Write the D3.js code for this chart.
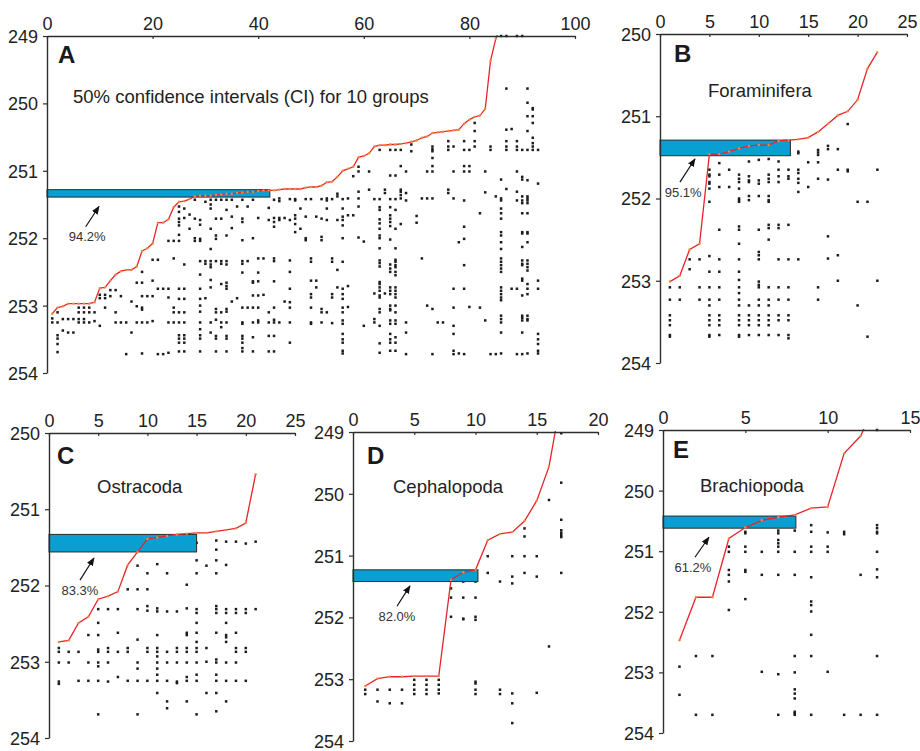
<!DOCTYPE html>
<html>
<head>
<meta charset="utf-8">
<script src="https://cdn.jsdelivr.net/npm/d3@7"></script>
<style>
  body { margin: 0; background: #fff; }
  svg { display: block; font-family: "Liberation Sans", Arial, Helvetica, sans-serif; }
</style>
</head>
<body>
<script>
// ---- data (ages in Ma, species ranked by last occurrence) ----
const xTicksA = [0, 20, 40, 60, 80, 100];
const xTicksB = [0, 5, 10, 15, 20, 25];
const xTicksC = [0, 5, 10, 15, 20, 25];
const xTicksD = [0, 5, 10, 15, 20];
const xTicksE = [0, 5, 10, 15];
const yTicks250 = [250, 251, 252, 253, 254];
const yTicks249 = [249, 250, 251, 252, 253, 254];

const titles = ["50% confidence intervals (CI) for 10 groups", "Foraminifera", "Ostracoda", "Cephalopoda", "Brachiopoda"];
const percents = ["94.2%", "95.1%", "83.3%", "82.0%", "61.2%"];

// CI bands [young, old] and length along x
const ciA = [251.28, 251.39], ciLenA = 42.2;
const ciB = [251.29, 251.48], ciLenB = 13.2;
const ciC = [251.33, 251.56], ciLenC = 15;
const ciD = [251.23, 251.42], ciLenD = 10.2;
const ciE = [250.42, 250.62], ciLenE = 8.07;

// last occurrences (red line), species 1..n
const topsA = [253.12, 253.03, 253.01, 252.97, 252.97, 252.97, 252.97, 252.97, 252.95, 252.74,
  252.73, 252.63, 252.54, 252.49, 252.47, 252.47, 252.42, 252.19, 252.15, 252.08,
  251.77, 251.77, 251.72, 251.54, 251.46, 251.45, 251.42, 251.38, 251.37, 251.37,
  251.37, 251.36, 251.35, 251.34, 251.34, 251.33, 251.32, 251.31, 251.31, 251.30,
  251.29, 251.29, 251.29, 251.28, 251.27, 251.27, 251.27, 251.27, 251.25, 251.24,
  251.24, 251.22, 251.17, 251.16, 251.09, 251.00, 250.97, 250.94, 250.80, 250.78,
  250.74, 250.64, 250.62, 250.62, 250.61, 250.61, 250.60, 250.59, 250.57, 250.55,
  250.51, 250.49, 250.44, 250.43, 250.42, 250.41, 250.40, 250.39, 250.30, 250.24,
  250.20, 250.18, 250.08, 249.37, 249.04, 248.85];
const topsB = [253.01, 252.94, 252.62, 252.55, 251.46, 251.46, 251.43, 251.39, 251.36, 251.35, 251.35,
  251.30, 251.29, 251.28, 251.26, 251.19, 251.09, 250.99, 250.94, 250.80, 250.42, 250.22];
const topsC = [252.74, 252.72, 252.49, 252.41, 252.18, 252.14, 252.08, 251.73, 251.56, 251.39, 251.37,
  251.35, 251.33, 251.32, 251.31, 251.31, 251.29, 251.27, 251.25, 251.18, 250.54];
const topsD = [253.11, 252.99, 252.96, 252.96, 252.95, 252.95, 252.95, 251.39, 251.27, 251.23, 250.75,
  250.65, 250.62, 250.44, 250.11, 249.56, 248.45];
const topsE = [252.47, 251.76, 251.76, 250.79, 250.61, 250.49, 250.44, 250.40, 250.29, 250.27, 249.385,
  249.10, 248.5];

// occurrences per species (column i = species i+1)
const occA = [
  [253.19, 253.25],
  [253.10, 253.25, 253.44, 253.49, 253.57, 253.69],
  [253.20, 253.37],
  [253.20, 253.40],
  [253.20, 253.40],
  [253.03, 253.10, 253.20, 253.25],
  [253.03, 253.10, 253.20, 253.25],
  [253.03, 253.10, 253.25],
  [253.10, 253.23],
  [252.84, 252.89, 253.30],
  [252.84, 252.89, 253.03],
  [252.77, 252.86],
  [252.77, 253.10, 253.25],
  [252.86, 253.25],
  [253.25, 253.72],
  [252.94, 253.40],
  [252.66, 253.01, 253.25],
  [252.50, 252.66, 252.86, 253.03, 253.06, 253.25, 253.71],
  [252.86, 253.25],
  [252.32, 252.63, 252.86, 253.23],
  [252.32, 252.75, 253.72],
  [252.75, 253.72],
  [252.04, 252.75, 252.88, 253.25, 253.70],
  [252.04, 252.30, 253.03, 253.10, 253.25],
  [251.53, 251.61, 251.71, 251.76, 251.81, 251.95, 252.04, 252.75, 252.90, 253.10, 253.25, 253.44, 253.49, 253.55, 253.68],
  [251.56, 251.70, 252.39, 252.75, 252.90, 253.10, 253.25, 253.44, 253.49, 253.55, 253.68],
  [251.65, 251.86],
  [251.43, 251.71, 252.00, 252.04],
  [251.73, 251.80, 252.01, 252.04, 252.34, 252.54, 252.75, 252.90, 253.00, 253.09, 253.25, 253.35, 253.44, 253.49, 253.68],
  [251.46, 252.34, 252.38, 252.89],
  [251.43, 251.50, 251.56, 251.86, 252.16, 252.34, 252.39, 252.43, 252.62, 252.73, 253.25, 253.40],
  [251.43, 251.71, 251.96, 252.01, 252.34, 253.05, 253.10, 253.21, 253.45, 253.49, 253.68],
  [251.43, 251.71, 252.34, 252.38, 252.68, 253.10, 253.25, 253.32],
  [251.43, 251.58, 251.96, 252.34, 252.39, 252.66, 252.71, 252.75, 253.05, 253.09, 253.25, 253.45, 253.49, 253.68],
  [251.43, 251.68, 251.85, 252.94],
  [251.53, 252.89],
  [251.43, 251.71, 251.76, 252.03, 252.34, 252.38, 252.51, 253.03, 253.25, 253.27, 253.45, 253.49, 253.55, 253.63, 253.68],
  [251.53, 252.34, 253.03],
  [251.43, 252.00, 252.64, 252.66, 252.85, 253.03, 253.25, 253.47, 253.68],
  [251.70, 252.30, 252.51, 252.64, 252.85, 253.03, 253.22, 253.25],
  [252.30, 252.84],
  [251.55, 251.73, 253.10, 253.25, 253.45, 253.68],
  [251.43, 251.70, 251.76, 251.83, 252.30, 252.34, 252.64, 253.03, 253.21, 253.25, 253.45, 253.68],
  [251.41, 251.45, 251.70, 251.73, 253.25],
  [251.70, 252.94],
  [251.42, 251.73, 252.33, 252.50, 252.75, 252.95, 253.03, 253.25, 253.55],
  [251.42, 251.44, 251.66, 251.71, 251.79, 251.91],
  [251.56, 251.86],
  [251.42, 251.68, 252.00, 252.03],
  [251.42, 252.30, 252.35, 252.63, 252.83, 252.88, 253.03, 253.25, 253.27],
  [251.68, 252.63, 252.73],
  [251.42, 251.71, 251.98, 252.03, 253.05, 253.10, 253.25],
  [251.41, 251.44, 251.56, 251.73, 253.10],
  [251.42, 252.30, 252.35, 252.83, 252.88, 253.26],
  [251.34, 251.38, 251.73, 252.47, 252.73],
  [251.42, 251.56, 251.68, 251.73, 251.81, 252.00, 252.35, 252.75, 252.83, 252.90, 253.03, 253.10, 253.22, 253.27, 253.42, 253.50, 253.55, 253.67, 253.71],
  [251.41, 251.66, 252.71, 253.02],
  [251.08, 251.66],
  [250.94, 251.01, 251.31, 251.41, 251.53, 251.99],
  [252.05, 253.30],
  [251.01, 251.28],
  [251.42, 252.82, 253.20, 253.25],
  [250.69, 251.42, 251.54, 251.58, 251.72, 251.78, 251.86, 251.96, 252.00, 252.15, 252.33, 252.37, 252.42, 252.65, 252.68, 252.73, 252.78, 252.85, 252.88, 253.05, 253.10, 253.30, 253.56, 253.70],
  [251.28, 251.33, 252.82],
  [250.69, 251.07, 251.42, 251.54, 251.66, 251.71, 251.76, 251.82, 252.02, 252.39, 252.45, 252.50, 252.73, 252.78, 252.83, 253.00, 253.05, 253.07, 253.22, 253.27, 253.42, 253.50, 253.55, 253.67],
  [250.69, 251.07, 251.42, 251.58, 251.86, 252.15, 252.32, 252.35, 252.40, 252.43, 252.50, 252.55, 252.73, 252.78, 252.83, 252.88, 253.00, 253.10, 253.22, 253.27, 253.47, 253.55, 253.67],
  [250.69, 250.93, 251.28, 251.31, 251.36, 251.41, 251.79],
  [251.01, 251.33, 251.44, 253.25, 253.40, 253.72],
  [250.61, 250.71],
  [251.67, 251.77],
  [251.41, 252.30],
  [251.01, 251.41, 253.00],
  [250.64, 250.68, 250.71, 250.81, 250.93, 251.01, 251.41, 253.05, 253.72],
  [253.25],
  [253.25],
  [250.56, 250.64, 250.69, 251.28, 251.33],
  [250.64, 251.01, 251.41, 252.75, 253.03, 253.30, 253.42, 253.67, 253.72],
  [252.06, 253.71],
  [250.56, 250.69, 250.93, 251.01, 251.44, 251.83, 252.01, 252.40, 252.75, 253.72],
  [250.69, 250.93, 251.01, 253.02],
  [250.29, 250.41, 250.56, 250.64],
  [251.63, 253.03],
  [251.01, 251.32, 253.22],
  [250.64, 250.69, 253.72],
  [251.38, 253.72],
  [249.00, 251.13, 251.41, 251.44, 251.56, 251.63, 251.71, 251.91, 251.96, 252.06, 252.16, 252.30, 252.35, 252.40, 252.45, 252.50, 252.73, 252.78, 252.83, 252.88, 252.92, 253.15, 253.20, 253.25, 253.40, 253.71],
  [249.00, 249.78, 250.39, 250.56, 250.64, 250.69, 251.27],
  [250.38, 252.75],
  [249.00, 250.56, 250.64, 250.69, 251.01, 251.31, 251.44, 252.75, 253.72],
  [249.00, 250.69, 251.09, 251.13, 251.38, 251.44, 251.48, 251.63, 251.91, 251.93, 252.13, 252.33, 252.38, 252.40, 252.60, 252.63, 252.85, 253.15, 253.18, 253.22, 253.40, 253.72],
  [249.78, 249.99, 250.19, 250.41, 250.69, 251.14, 251.38, 251.41, 251.44, 251.48, 251.63, 251.91, 251.93, 252.06, 252.33, 252.38, 252.43, 252.48, 252.68, 252.75, 252.83, 253.15, 253.20, 253.22, 253.71],
  [250.07, 250.09, 250.19, 250.29, 250.51, 250.59, 250.64, 250.69],
  [250.69, 251.19, 252.63, 252.75, 253.42, 253.50, 253.57, 253.67, 253.71]
];

const occB = [
  [253.08, 253.23, 253.42, 253.48, 253.54, 253.66, 253.68],
  [253.08, 253.23],
  [252.74, 252.86],
  [252.74, 253.08, 253.23],
  [251.65, 251.71, 251.73, 251.80, 251.82, 251.88, 252.04, 252.70, 252.89, 253.08, 253.23, 253.30, 253.42, 253.48, 253.54, 253.66, 253.68],
  [251.57, 251.71, 251.86, 252.38, 252.74, 252.89, 253.08, 253.23, 253.42, 253.48, 253.54, 253.66],
  [251.65, 251.86],
  [251.71, 251.76, 251.80, 251.88, 252.00, 252.02, 252.04, 252.34, 252.38, 252.55, 252.74, 252.89, 252.99, 253.08, 253.15, 253.23, 253.30, 253.42, 253.48, 253.54, 253.66, 253.68],
  [251.43, 251.55, 251.73, 251.78, 251.80, 251.97, 252.02, 253.30, 253.42, 253.48, 253.54, 253.66],
  [251.45, 251.53, 251.78, 251.82, 251.97, 252.38, 252.65, 252.69, 252.74, 253.01, 253.05, 253.08, 253.23, 253.30, 253.42, 253.48, 253.54, 253.66],
  [251.43, 251.52, 251.71, 251.76, 251.80, 251.97, 252.02, 252.04, 252.32, 252.36, 252.50, 253.08, 253.23, 253.30, 253.42, 253.48, 253.54, 253.66],
  [251.41, 251.55, 251.65, 251.73, 251.80, 252.32, 252.36, 252.74, 253.08, 253.23, 253.42, 253.48, 253.66],
  [251.41, 251.45, 251.65, 251.73, 251.76, 252.32, 252.74, 253.08, 253.23, 253.42, 253.48, 253.66, 253.70],
  [251.43, 251.45, 251.65, 251.69, 251.76, 251.81, 251.92, 252.74],
  [251.56, 251.86],
  [251.41, 251.44, 251.47, 251.56, 251.76, 253.08, 253.23],
  [251.36, 251.40, 251.77, 252.46, 252.73],
  [251.40, 251.65, 252.69, 253.00],
  [251.095, 251.65, 251.67],
  [252.04, 253.30],
  [252.04, 253.68],
  [251.65, 253.00]
];

const occC = [
  [252.82, 252.87, 253.01, 253.26, 253.29],
  [252.87, 253.01],
  [252.87, 253.25],
  [252.65, 253.01, 253.25],
  [252.31, 252.49, 252.65, 252.84, 252.87, 253.01, 253.06, 253.25, 253.69],
  [252.31, 252.82, 252.87, 253.01, 253.26],
  [252.31, 252.62, 252.87, 253.20],
  [252.05, 252.82, 252.87, 253.25],
  [251.74, 252.05, 252.31, 252.71, 253.01, 253.09, 253.25, 253.69],
  [251.84, 252.05, 252.27, 252.33, 252.82, 252.87, 253.25],
  [251.46, 251.50, 251.72, 252.30, 252.34, 252.65, 252.82, 252.87, 252.93, 253.01, 253.09, 253.17, 253.25, 253.41],
  [251.54, 251.84, 252.34, 252.87, 253.01, 253.25, 253.52, 253.61],
  [251.54, 252.34, 252.82, 252.87, 253.01, 253.26, 253.28],
  [251.46, 251.50, 251.99, 252.30, 252.62, 252.65, 252.82, 252.87, 253.01, 253.20, 253.25, 253.52],
  [251.44, 251.67, 251.84, 252.31, 252.36, 252.49, 252.62, 252.74, 252.82, 252.87, 253.01, 253.17, 253.25, 253.69],
  [251.74, 252.82, 253.00, 253.41],
  [251.41, 251.53, 251.67, 251.84, 252.27, 252.31, 252.36, 252.62, 252.97, 253.01, 253.17, 253.25, 253.41, 253.65],
  [251.425, 251.73, 252.31, 252.36, 252.49, 252.65, 252.68, 252.74, 253.01, 253.25, 253.52],
  [251.425, 252.31, 252.36, 252.62, 252.82, 252.87, 253.01, 253.25],
  [251.45, 252.31, 252.36, 252.82, 252.87, 253.25],
  [251.425, 252.31]
];

const occD = [
  [253.17, 253.24],
  [253.17, 253.36],
  [253.17, 253.39],
  [253.17, 253.39],
  [253.01, 253.09, 253.17, 253.24],
  [253.01, 253.09, 253.17, 253.24],
  [253.01, 253.09, 253.17, 253.23],
  [251.53, 251.68, 251.99],
  [251.42, 251.68, 252.02, 252.03],
  [251.42, 251.68, 251.99, 252.04, 253.04, 253.07, 253.17, 253.24],
  [251.01, 251.28],
  [251.42, 253.17, 253.24],
  [251.01, 251.34, 251.45, 253.23, 253.39, 253.71],
  [250.56, 250.69, 251.01, 251.28],
  [251.01, 251.34, 253.22],
  [250.10, 252.47],
  [249.02, 249.82, 250.42, 250.59, 250.63, 250.67, 250.70, 251.28]
];

const occE = [
  [252.905, 253.37],
  [252.73, 253.70],
  [252.73, 253.70],
  [250.925, 251.01, 251.31, 251.39, 251.50, 251.97],
  [250.68, 250.705, 250.925, 251.01, 251.31, 251.34, 251.79],
  [251.01, 251.39, 252.99],
  [250.66, 250.705, 250.815, 250.87, 250.925, 251.01, 251.39, 253.03, 253.70],
  [250.66, 251.01, 251.39, 252.73, 253.00, 253.28, 253.35, 253.43, 253.65, 253.675, 253.70],
  [250.57, 250.68, 250.925, 251.01, 251.43, 251.83, 251.89, 251.995, 252.38, 252.73, 253.70],
  [250.69, 250.925, 251.01, 252.99],
  [250.68, 250.72, 253.70],
  [251.39, 253.70],
  [249.00, 250.57, 250.62, 250.68, 250.705, 251.01, 251.30, 251.43, 252.73, 253.70]
];

// arrow annotations in data units: [tailX, tailY, headX, headY, labelX, labelY]
const arrowA = [7.33, 251.83, 9.85, 251.53, 7.6, 251.98];
const arrowB = [2.02, 251.80, 3.54, 251.52, 2.35, 251.93];
const arrowC = [3.15, 251.93, 4.57, 251.64, 3.15, 252.07];
const arrowD = [3.59, 251.82, 4.65, 251.49, 3.59, 251.99];
const arrowE = [1.94, 251.10, 2.79, 250.77, 1.82, 251.26];

// ---- layout ----
const panels = [
  { key: "A", left: 47, right: 575, top: 36, bottom: 373, xMax: 100, yMin: 249, xTicks: xTicksA, yTicks: yTicks249,
    tops: topsA, occ: occA, ci: ciA, ciLen: ciLenA, arrow: arrowA, title: titles[0], pct: percents[0],
    letter: [11, 27], titleXY: [26, 67] },
  { key: "B", left: 660, right: 907, top: 34, bottom: 363, xMax: 25, yMin: 250, xTicks: xTicksB, yTicks: yTicks250,
    tops: topsB, occ: occB, ci: ciB, ciLen: ciLenB, arrow: arrowB, title: titles[1], pct: percents[1],
    letter: [14, 28], titleXY: [48, 63] },
  { key: "C", left: 49, right: 295, top: 433, bottom: 738, xMax: 25, yMin: 250, xTicks: xTicksC, yTicks: yTicks250,
    tops: topsC, occ: occC, ci: ciC, ciLen: ciLenC, arrow: arrowC, title: titles[2], pct: percents[2],
    letter: [8, 31], titleXY: [48, 60] },
  { key: "D", left: 353, right: 598, top: 432, bottom: 741, xMax: 20, yMin: 249, xTicks: xTicksD, yTicks: yTicks249,
    tops: topsD, occ: occD, ci: ciD, ciLen: ciLenD, arrow: arrowD, title: titles[3], pct: percents[3],
    letter: [14, 32], titleXY: [40, 61] },
  { key: "E", left: 663, right: 910, top: 430, bottom: 733, xMax: 15, yMin: 249, xTicks: xTicksE, yTicks: yTicks249,
    tops: topsE, occ: occE, ci: ciE, ciLen: ciLenE, arrow: arrowE, title: titles[4], pct: percents[4],
    letter: [10, 28], titleXY: [37, 62] }
];

const svg = d3.select("body").append("svg")
  .attr("width", 920)
  .attr("height", 751);

const defs = svg.append("defs");
defs.append("marker")
  .attr("id", "arrowhead")
  .attr("viewBox", "0 0 10 10")
  .attr("refX", 9).attr("refY", 5)
  .attr("markerWidth", 7).attr("markerHeight", 7)
  .attr("orient", "auto")
  .append("path")
  .attr("d", "M0,1 L10,5 L0,9 Z")
  .attr("fill", "#111");

panels.forEach(function (p) {
  const x = d3.scaleLinear().domain([0, p.xMax]).range([p.left, p.right]);
  const y = d3.scaleLinear().domain([p.yMin, 254]).range([p.top, p.bottom]);
  const g = svg.append("g");

  defs.append("clipPath").attr("id", "clip" + p.key)
    .append("rect")
    .attr("x", p.left).attr("y", p.top - 1)
    .attr("width", p.right - p.left).attr("height", p.bottom - p.top + 1);

  // occurrence dots
  const pts = p.occ.flatMap((arr, i) => arr.map(v => ({ sp: i + 1, v: v })));
  g.append("g").selectAll("rect")
    .data(pts)
    .join("rect")
    .attr("x", d => x(d.sp) - 1.25)
    .attr("y", d => y(d.v) - 1.25)
    .attr("width", 2.5)
    .attr("height", 2.5)
    .attr("fill", "#1c1c1c");

  // confidence interval bar
  g.append("rect")
    .attr("x", x(0))
    .attr("y", y(p.ci[0]))
    .attr("width", x(p.ciLen) - x(0))
    .attr("height", y(p.ci[1]) - y(p.ci[0]))
    .attr("fill", "#0a9fd3")
    .attr("stroke", "#2b2b2b")
    .attr("stroke-width", 1);

  // red line of last occurrences
  const line = d3.line().x((d, i) => x(i + 1)).y(d => y(d));
  const lg = g.append("g").attr("clip-path", "url(#clip" + p.key + ")");
  lg.append("path")
    .datum(p.tops)
    .attr("d", line)
    .attr("fill", "none")
    .attr("stroke", "#e8232b")
    .attr("stroke-width", 1.3);
  lg.selectAll("circle")
    .data(p.tops)
    .join("circle")
    .attr("cx", (d, i) => x(i + 1))
    .attr("cy", d => y(d))
    .attr("r", 1.2)
    .attr("fill", "#f08a3a");

  // axes
  const xAxis = d3.axisTop(x).tickValues(p.xTicks).tickSizeInner(-3).tickSizeOuter(0).tickPadding(6);
  const yAxis = d3.axisLeft(y).tickValues(p.yTicks).tickFormat(d3.format("d")).tickSizeInner(4).tickSizeOuter(0).tickPadding(5);
  const xa = g.append("g").attr("transform", `translate(0,${p.top})`).call(xAxis);
  const ya = g.append("g").attr("transform", `translate(${p.left},0)`).call(yAxis);
  [xa, ya].forEach(function (a) {
    a.select(".domain").attr("stroke", "#2e2e2e").attr("stroke-width", 1.4);
    a.selectAll(".tick line").attr("stroke", "#2e2e2e").attr("stroke-width", 1.2);
    a.selectAll(".tick text").attr("fill", "#222").style("font-size", "18px").style("font-family", "Liberation Sans, Arial, sans-serif");
  });
  ya.selectAll(".tick text").attr("dy", "0.36em");

  // panel letter and title
  g.append("text")
    .attr("x", p.left + p.letter[0])
    .attr("y", p.top + p.letter[1])
    .attr("font-size", 24)
    .attr("font-weight", "bold")
    .attr("fill", "#1a1a1a")
    .text(p.key);
  g.append("text")
    .attr("x", p.left + p.titleXY[0])
    .attr("y", p.top + p.titleXY[1])
    .attr("font-size", 18.5)
    .attr("fill", "#222")
    .text(p.title);

  // arrow + percentage
  const a = p.arrow;
  g.append("line")
    .attr("x1", x(a[0])).attr("y1", y(a[1]))
    .attr("x2", x(a[2])).attr("y2", y(a[3]))
    .attr("stroke", "#111")
    .attr("stroke-width", 1.2)
    .attr("marker-end", "url(#arrowhead)");
  g.append("text")
    .attr("x", x(a[4]))
    .attr("y", y(a[5]))
    .attr("dy", "0.35em")
    .attr("text-anchor", "middle")
    .attr("font-size", 13)
    .attr("fill", "#333")
    .text(p.pct);
});
</script>
</body>
</html>
